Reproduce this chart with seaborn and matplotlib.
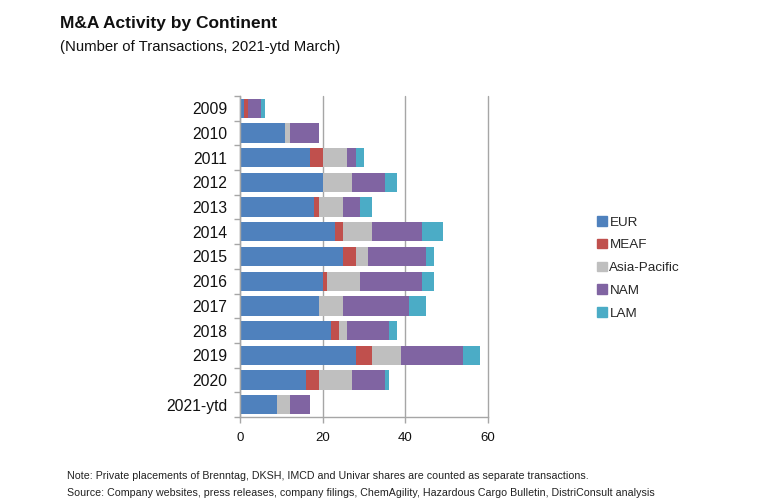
import numpy as np
import pandas as pd
import matplotlib
matplotlib.use("Agg")
import matplotlib.pyplot as plt
from matplotlib.patches import Patch
import seaborn as sns

years = ["2009","2010","2011","2012","2013","2014","2015","2016","2017","2018","2019","2020","2021-ytd"]
EUR  = [1,11,17,20,18,23,25,20,19,22,28,16,9]
MEAF = [1,0,3,0,1,2,3,1,0,2,4,3,0]
APAC = [0,1,6,7,6,7,3,8,6,2,7,8,3]
NAM  = [3,7,2,8,4,12,14,15,16,10,15,8,5]
LAM  = [1,0,2,3,3,5,2,3,4,2,4,1,0]
series_names = ["EUR","MEAF","Asia-Pacific","NAM","LAM"]
series_values = [EUR,MEAF,APAC,NAM,LAM]
colors = ["#4F81BD","#C0504D","#BFBFBF","#8064A2","#4BACC6"]
xticks = [0,20,40,60]

sns.set_theme(style="white")
plt.rcParams['font.family'] = ['Liberation Sans','DejaVu Sans']

W,H = 760,504
fig = plt.figure(figsize=(W/100,H/100),dpi=100,facecolor="white")
ax = fig.add_axes([240/W,1-417/H,248/W,(417-96)/H])
ax.set_axisbelow(True)
ax.xaxis.grid(True,color="#A6A6A6",lw=1,clip_on=False)
ax.yaxis.grid(False)

cum = np.cumsum(np.array(series_values),axis=0)
for i in range(len(series_names)-1,-1,-1):
    df = pd.DataFrame({"year":years,"v":cum[i]})
    sns.barplot(data=df,y="year",x="v",order=years,color=colors[i],saturation=1,width=0.78,ax=ax,linewidth=0)

ax.set_xlim(0,60)
ax.set_ylim(len(years)-0.5,-0.5)
ax.set_xticks(xticks)
ax.set_xlabel("");ax.set_ylabel("")
ax.set_yticks(np.arange(len(years)+1)-0.5,minor=True)
ax.set_yticks(np.arange(len(years)))
ax.set_yticklabels(years,fontsize=11.3,color="#111111",va="center_baseline")
ax.tick_params(axis="y",which="major",length=0,pad=9)
ax.tick_params(axis="y",which="minor",length=4,width=1,color="#A6A6A6",left=True)
ax.tick_params(axis="x",length=4,width=1,color="#A6A6A6",labelsize=9.5,labelcolor="#111111",pad=6.5,bottom=True)
for s in ["top","right"]:
    ax.spines[s].set_visible(False)
for s in ["left","bottom"]:
    ax.spines[s].set_color("#A6A6A6");ax.spines[s].set_linewidth(1)

handles=[Patch(color=c,label=n) for c,n in zip(colors,series_names)]
fig.legend(handles=handles,loc="upper left",bbox_to_anchor=(597/W,1-216/H),frameon=False,
           fontsize=9.7,handlelength=0.72,handleheight=0.72,handletextpad=0.2,labelspacing=0.76,borderpad=0,borderaxespad=0)

fig.text(60/W,1-28/H,"M&A Activity by Continent",fontsize=12.5,fontweight="bold",color="#111111")
fig.text(60/W,1-51/H,"(Number of Transactions, 2021-ytd March)",fontsize=10.7,color="#111111")
fig.text(67/W,1-479/H,"Note: Private placements of Brenntag, DKSH, IMCD and Univar shares are counted as separate transactions.",fontsize=7.65,color="#222222")
fig.text(67/W,1-496/H,"Source: Company websites, press releases, company filings, ChemAgility, Hazardous Cargo Bulletin, DistriConsult analysis",fontsize=7.65,color="#222222")
fig.savefig("out.png",dpi=100)
